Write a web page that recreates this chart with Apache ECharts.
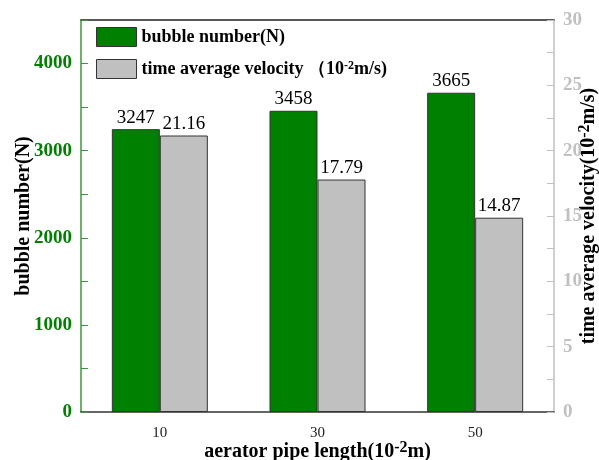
<!DOCTYPE html>
<html>
<head>
<meta charset="utf-8">
<script src="https://cdn.jsdelivr.net/npm/echarts@6/dist/echarts.min.js"></script>
<style>
html,body{margin:0;padding:0;background:#fff;}
#chart{width:599px;height:460px;}
</style>
</head>
<body>
<div id="chart"></div>
<script>
// Aerator pipe lengths (10^-2 m)
const categories = ['10', '30', '50'];
// Bubble count per pipe length
const bubbleNumber = [3247, 3458, 3665];
// Time-averaged velocity (10^-2 m/s)
const avgVelocity = [21.16, 17.79, 14.87];
// Tick labels
const leftTicks = [0, 1000, 2000, 3000, 4000];
const rightTicks = [0, 5, 10, 15, 20, 25, 30];

const GREEN = '#008000';
const GRAY = '#c0c0c0';
const SERIF = '"Liberation Serif","Times New Roman",serif';

const supRich = {
  b: { fontFamily: SERIF, fontWeight: 'bold', fontSize: 20, color: '#000' },
  s: { fontFamily: SERIF, fontWeight: 'bold', fontSize: 16, color: '#000', verticalAlign: 'top', padding: [0, 0, 8, 0] }
};

const chart = echarts.init(document.getElementById('chart'), null, { renderer: 'canvas' });

chart.setOption({
  animation: false,
  backgroundColor: '#fff',
  grid: { left: 81, right: 45, top: 20, bottom: 48, containLabel: false, outerBoundsMode: 'none' },
  legend: {
    orient: 'vertical',
    left: 96, top: 27,
    padding: 0,
    icon: 'rect',
    itemWidth: 40, itemHeight: 19, itemGap: 12,
    textStyle: {
      fontFamily: SERIF, fontWeight: 'bold', fontSize: 18, color: '#000',
      rich: {
        t: { fontFamily: SERIF, fontWeight: 'bold', fontSize: 18, color: '#000' },
        s: { fontFamily: SERIF, fontWeight: 'bold', fontSize: 12, color: '#000', verticalAlign: 'top', padding: [0, 0, 6, 0] }
      }
    },
    formatter: function (name) {
      if (name === 'velocity') return '{t|time average velocity （10}{s|-2}{t|m/s)}';
      return '{t|bubble number(N)}';
    },
    data: [
      { name: 'bubble', itemStyle: { color: GREEN, borderColor: '#333', borderWidth: 1 } },
      { name: 'velocity', itemStyle: { color: GRAY, borderColor: '#333', borderWidth: 1 } }
    ]
  },
  xAxis: [
    {
      type: 'category',
      data: categories,
      position: 'bottom',
      axisLine: { lineStyle: { color: '#333', width: 1.5 } },
      axisTick: { inside: true, length: 4, lineStyle: { color: '#333' } },
      axisLabel: { fontFamily: SERIF, fontSize: 15, color: '#222', margin: 14 },
      name: '{b|aerator pipe length(10}{s|-2}{b|m)}',
      nameLocation: 'middle',
      nameGap: 28,
      nameMoveOverlap: false,
      nameTextStyle: { rich: supRich }
    },
    {
      type: 'category',
      data: categories,
      position: 'top',
      axisLine: { show: true, onZero: false, lineStyle: { color: '#222', width: 1.5 } },
      axisTick: { show: false },
      axisLabel: { show: false }
    }
  ],
  yAxis: [
    {
      type: 'value',
      min: 0, max: 4500, interval: 500,
      position: 'left',
      axisLine: { show: true, lineStyle: { color: '#3a9a3a', width: 1.5 } },
      axisTick: { show: true, inside: true, length: 7, lineStyle: { color: '#3a9a3a' } },
      splitLine: { show: false },
      axisLabel: {
        fontFamily: SERIF, fontWeight: 'bold', fontSize: 19, color: GREEN, margin: 9,
        formatter: function (v) { return leftTicks.indexOf(v) >= 0 ? String(v) : ''; }
      },
      name: 'bubble number(N)',
      nameLocation: 'middle',
      nameGap: 47,
      nameMoveOverlap: false,
      nameTextStyle: { fontFamily: SERIF, fontWeight: 'bold', fontSize: 20, color: '#000' }
    },
    {
      type: 'value',
      min: 0, max: 30, interval: 2.5,
      position: 'right',
      axisLine: { show: true, lineStyle: { color: GRAY, width: 1.5 } },
      axisTick: { show: true, inside: true, length: 7, lineStyle: { color: GRAY } },
      splitLine: { show: false },
      axisLabel: {
        fontFamily: SERIF, fontWeight: 'bold', fontSize: 19, color: GRAY, margin: 9,
        formatter: function (v) { return rightTicks.indexOf(v) >= 0 ? String(v) : ''; }
      },
      name: '{b|time average velocity(10}{s|-2}{b|m/s)}',
      nameLocation: 'middle',
      nameGap: 23,
      nameRotate: 90,
      nameMoveOverlap: false,
      nameTextStyle: { rich: supRich }
    }
  ],
  series: [
    {
      name: 'bubble',
      type: 'bar',
      xAxisIndex: 0, yAxisIndex: 0,
      data: bubbleNumber,
      barWidth: 48,
      barGap: '0%',
      itemStyle: { color: GREEN, borderColor: '#333', borderWidth: 1 },
      label: { show: true, position: 'top', distance: 2, fontFamily: SERIF, fontSize: 19, color: '#000' }
    },
    {
      name: 'velocity',
      type: 'bar',
      xAxisIndex: 0, yAxisIndex: 1,
      data: avgVelocity,
      barWidth: 48,
      barGap: '0%',
      itemStyle: { color: GRAY, borderColor: '#333', borderWidth: 1 },
      label: { show: true, position: 'top', distance: 2, fontFamily: SERIF, fontSize: 19, color: '#000' }
    }
  ]
});
</script>
</body>
</html>
